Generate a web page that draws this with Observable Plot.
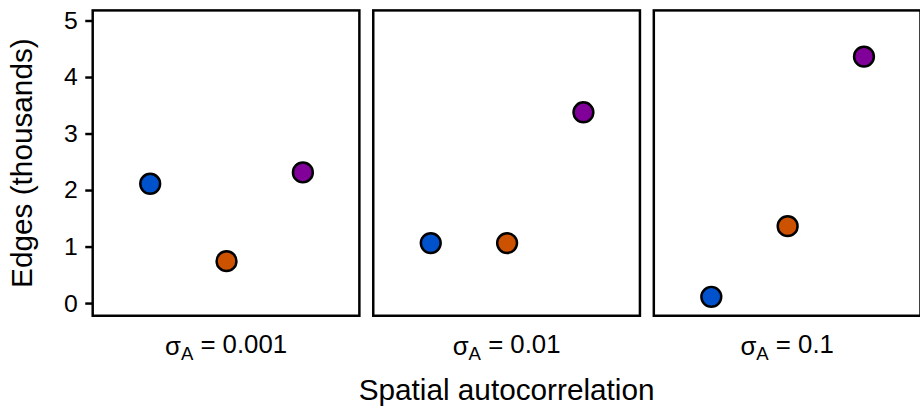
<!DOCTYPE html>
<html>
<head>
<meta charset="utf-8">
<script src="https://cdn.jsdelivr.net/npm/d3@7"></script>
<script src="https://cdn.jsdelivr.net/npm/@observablehq/plot@0.6"></script>
<style>
  html, body { margin: 0; padding: 0; background: white; overflow: hidden; }
  #chart { width: 920px; height: 411px; overflow: hidden; }
</style>
</head>
<body>
<div id="chart"></div>
<script>
// Facet categories (spatial autocorrelation σ_A)
const facets = ["0.001", "0.01", "0.1"];
// Groups within each facet (x positions)
const groups = ["g1", "g2", "g3"];
const groupColors = ["#0052cc", "#cc5200", "#800099"];
// Edges (thousands), one value per facet
const blueValues = [2.12, 1.07, 0.12];
const orangeValues = [0.75, 1.07, 1.37];
const purpleValues = [2.32, 3.385, 4.37];
const yTicks = [0, 1, 2, 3, 4, 5];

const seriesValues = [blueValues, orangeValues, purpleValues];
const data = [];
facets.forEach((f, i) => {
  groups.forEach((g, j) => {
    data.push({ facet: f, group: g, value: seriesValues[j][i] });
  });
});

const FONT = "'Liberation Sans', Arial, Helvetica, sans-serif";

const chart = Plot.plot({
  width: 928,
  height: 411,
  marginLeft: 93,
  marginRight: 0,
  marginTop: 10,
  marginBottom: 93,
  style: { fontFamily: FONT, background: "white", color: "black", overflow: "visible" },
  fx: { domain: facets, paddingInner: 0.0506, paddingOuter: 0 },
  x: { domain: groups, padding: 0.743, axis: null },
  y: { domain: [-0.2156, 5.1875] },
  color: { domain: groups, range: groupColors },
  marks: [
    Plot.frame({ stroke: "black", strokeWidth: 2.5 }),
    Plot.dot(data, { fx: "facet", x: "group", y: "value", r: 10, fill: "group", stroke: "black", strokeWidth: 2.5 }),
    Plot.axisY({
      ticks: yTicks, tickFormat: d => String(d), tickSize: 7, tickPadding: 8, strokeWidth: 2.5,
      fontSize: 25, label: "Edges (thousands)", labelAnchor: "center",
      labelOffset: 83, labelArrow: "none"
    }),
    Plot.axisFx({
      anchor: "bottom", tickSize: 0, tickPadding: 21, fontSize: 26,
      tickFormat: d => "σA = " + d,
      label: "Spatial autocorrelation", labelAnchor: "center",
      labelOffset: 85, labelArrow: "none"
    })
  ]
});

document.getElementById("chart").appendChild(chart);

// Render subscripts for facet labels (σ_A)
const svg = d3.select(chart);
svg.selectAll("g[aria-label='fx-axis tick label'] text").each(function () {
  const t = d3.select(this);
  const txt = t.text();
  const rest = txt.replace(/^σA/, "");
  t.text(null);
  t.append("tspan").text("σ");
  t.append("tspan").attr("dy", "0.3em").attr("font-size", "0.72em").text("A");
  t.append("tspan").attr("dy", "-0.3em").text(rest);
});
svg.selectAll("g[aria-label='fx-axis tick label']").attr("font-size", 26);
svg.selectAll("g[aria-label='y-axis tick label']").attr("font-size", 25);
svg.selectAll("g[aria-label='fx-axis label'], g[aria-label='y-axis label']").attr("font-size", 30);
svg.selectAll("g[aria-label='fx-axis label'] text, g[aria-label='y-axis label'] text").attr("font-size", 30);
</script>
</body>
</html>
